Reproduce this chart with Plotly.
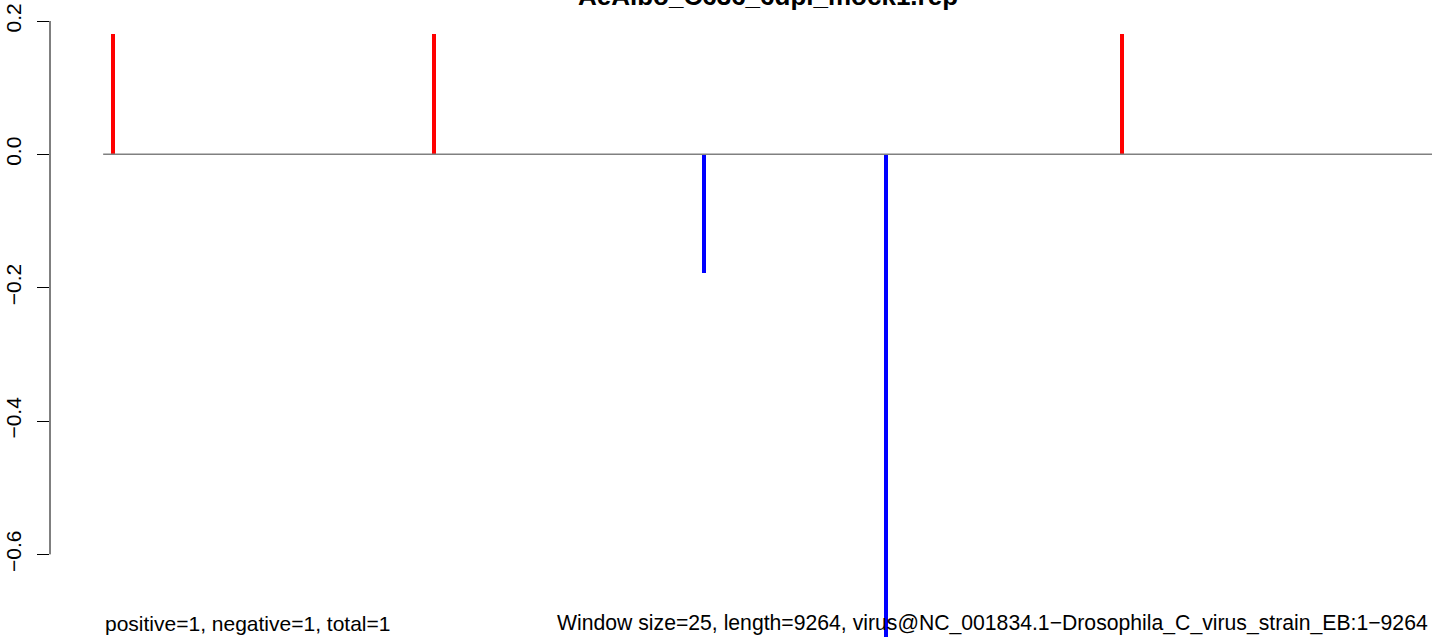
import plotly.graph_objects as go

# window positions along the genome and their normalised counts
genome_length = 9264
pos_positions = [71, 2308, 7102]
pos_values = [0.18, 0.18, 0.18]
neg_positions = [4189, 5457]
neg_values = [-0.178, -0.75]

y_ticks = [-0.6, -0.4, -0.2, 0.0, 0.2]
y_ticklabels = ["\u22120.6", "\u22120.4", "\u22120.2", "0.0", "0.2"]

title = "AeAlbo_C636_6dpi_mock1.rep"
left_note = "positive=1, negative=1, total=1"
right_note = ("Window size=25, length=9264, "
              "virus@NC_001834.1\u2212Drosophila_C_virus_strain_EB:1\u22129264")

font = "Liberation Sans, Arial, sans-serif"

fig = go.Figure()

# baseline along the genome
fig.add_trace(go.Scatter(
    x=[1, genome_length], y=[0, 0], mode="lines",
    line={"color": "#808080", "width": 1.5},
    showlegend=False, hoverinfo="skip",
))

fig.add_trace(go.Bar(
    x=pos_positions, y=pos_values, width=28,
    marker={"color": "#FF0000", "line": {"width": 0}},
    showlegend=False,
))
fig.add_trace(go.Bar(
    x=neg_positions, y=neg_values, width=28,
    marker={"color": "#0000FF", "line": {"width": 0}},
    showlegend=False,
))

# R-style axis line, only between the extreme ticks
fig.add_shape(type="line", xref="paper", yref="y",
              x0=0, x1=0, y0=min(y_ticks), y1=max(y_ticks),
              line={"color": "black", "width": 1})

fig.add_annotation(text="<b>" + title + "</b>", xref="paper", yref="paper",
                   x=0.5 + 26 / 1383, y=1 - 13 / 637, xanchor="center", yanchor="bottom",
                   showarrow=False, font={"size": 26, "color": "black", "family": font})
fig.add_annotation(text=left_note, xref="x", yref="paper",
                   x=1, y=0, xanchor="left", yanchor="bottom",
                   showarrow=False, font={"size": 21, "color": "black", "family": font})
fig.add_annotation(text=right_note, xref="paper", yref="paper",
                   x=(1430 - 50) / 1383, y=0, xanchor="right", yanchor="bottom",
                   showarrow=False, font={"size": 21.2, "color": "black", "family": font})

fig.update_layout(
    width=1433, height=637,
    margin={"l": 50, "r": 0, "t": 0, "b": 0},
    plot_bgcolor="white", paper_bgcolor="white",
    bargap=0,
    font={"family": font, "color": "black"},
)
fig.update_xaxes(range=[-369.5, 9271], visible=False, showgrid=False, zeroline=False)
fig.update_yaxes(
    range=[-0.7239, 0.2315],
    tickvals=y_ticks, ticktext=y_ticklabels,
    tickangle=-90, ticks="outside", ticklen=12, tickwidth=1, tickcolor="black",
    tickfont={"size": 21, "family": font, "color": "black"},
    ticklabelstandoff=8,
    showgrid=False, zeroline=False, showline=False,
)

fig.write_html("out.html", config={"displayModeBar": False},
               post_script="document.body.style.margin='0px';document.body.style.overflow='hidden';")
